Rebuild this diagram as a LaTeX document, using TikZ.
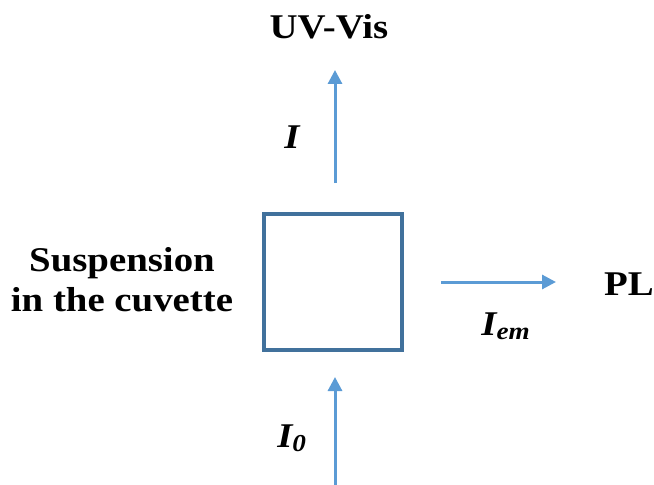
\documentclass[tikz,border=0pt]{standalone}
\usepackage{graphicx}
\usepackage{fontspec}
\setmainfont{Liberation Serif}
\usetikzlibrary{arrows.meta}

\definecolor{cuvetteblue}{HTML}{41719C}
\definecolor{beamblue}{HTML}{5B9BD5}

% text in the drawing is stretched sideways
\newcommand{\widetext}[1]{\scalebox{1.12}[1]{#1}}

\tikzset{
  beam/.style={draw=beamblue, line width=2.25pt,
    -{Triangle[width=10.5pt,length=10.5pt]}},
  label/.style={font=\fontsize{26}{30}\selectfont\bfseries, inner sep=0pt},
  intensity/.style={font=\fontsize{26}{30}\selectfont\bfseries\itshape, inner sep=0pt}
}

\begin{document}
\begin{tikzpicture}[x=0.75pt,y=-0.75pt]
  \useasboundingbox (0,0) rectangle (654,485);

  % -------------------------
  % Cuvette
  % -------------------------
  \node[draw=cuvetteblue, line width=3pt, minimum width=103.5pt,
    minimum height=102pt, inner sep=0pt] (cuvette) at (333,282) {};

  \node[label, anchor=base] (susp) at (122,271) {\widetext{Suspension}};
  \node[label, anchor=base] (cuv) at (122,311) {\widetext{in the cuvette}};

  % -------------------------
  % Beams
  % -------------------------
  \coordinate (intail) at (335,485);
  \coordinate (inhead) at (335,377);
  \coordinate (uvtail) at (335,183);
  \coordinate (uvhead) at (335,70);
  \coordinate (pltail) at (441,282);
  \coordinate (plhead) at (556,282);

  \draw[beam] (intail) -- (inhead);
  \draw[beam] (uvtail) -- (uvhead);
  \draw[beam] (pltail) -- (plhead);

  \node[intensity, anchor=base] (izero) at (292,447) {\widetext{I\textsubscript{0}}};
  \node[intensity, anchor=base] (itrans) at (292,148) {\widetext{I}};
  \node[intensity, anchor=base] (iem) at (506,335) {\widetext{I\textsubscript{em}}};

  % -------------------------
  % Detectors
  % -------------------------
  \node[label, anchor=base] (uvvis) at (329,39) {\widetext{UV-Vis}};
  \node[label, anchor=base] (pl) at (629,295) {\widetext{PL}};

\end{tikzpicture}
\end{document}
